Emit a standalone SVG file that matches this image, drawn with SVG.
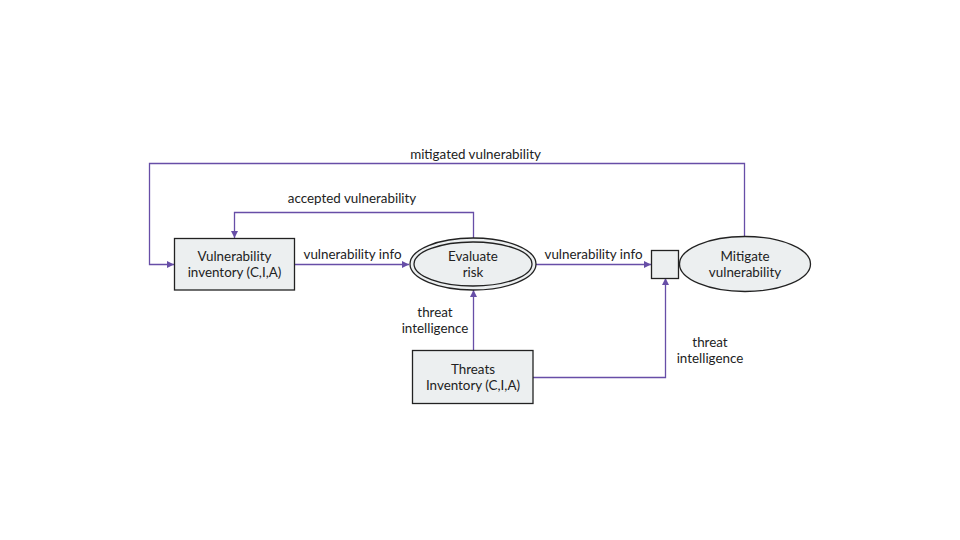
<svg xmlns="http://www.w3.org/2000/svg" width="960" height="540" viewBox="0 0 960 540">
<style>
text{font-family:Lato,"Noto Sans","Liberation Sans",sans-serif;font-size:13.4px;fill:#222;}
.c{text-anchor:middle;}
.n{fill:#eceff0;stroke:#222;stroke-width:1.3;}
.e{fill:none;stroke:#674ea7;stroke-width:1.3;}
</style>
<defs>
<marker id="a" viewBox="0 0 10 10" refX="10" refY="5" markerWidth="7" markerHeight="7" markerUnits="userSpaceOnUse" orient="auto"><path d="M0,0 L10,5 L0,10 z" fill="#674ea7"/></marker>
</defs>
<rect width="960" height="540" fill="#fff"/>
<g id="connectors">
<path class="e" d="M294.5,264.5 H409" marker-end="url(#a)"/>
<path class="e" d="M744.5,237 V163.5 H149.5 V264.5 H174" marker-end="url(#a)"/>
<path class="e" d="M473.5,238 V212.5 H234.5 V238" marker-end="url(#a)"/>
<path class="e" d="M536,264.5 H651" marker-end="url(#a)"/>
<path class="e" d="M473.5,350 V290" marker-end="url(#a)"/>
<path class="e" d="M533,377.5 H665.5 V278" marker-end="url(#a)"/>
</g>
<g id="labels">
<text class="c" x="475.5" y="159">mitigated vulnerability</text>
<text class="c" x="352" y="203">accepted vulnerability</text>
<text class="c" x="352.5" y="259">vulnerability info</text>
<text class="c" x="593.5" y="259">vulnerability info</text>
<text class="c" x="435" y="317">threat</text>
<text class="c" x="435" y="333">intelligence</text>
<text class="c" x="710" y="347">threat</text>
<text class="c" x="710" y="363">intelligence</text>
</g>
<g id="vuln-inventory">
<rect class="n" x="174.5" y="238.5" width="120" height="51.5"/>
<text class="c" x="234.5" y="261">Vulnerability</text>
<text class="c" x="234.5" y="277">inventory (C,I,A)</text>
</g>
<g id="evaluate-risk">
<ellipse class="n" cx="473" cy="264" rx="63" ry="26"/>
<ellipse class="n" cx="473" cy="264" rx="59" ry="22"/>
<text class="c" x="473" y="261">Evaluate</text>
<text class="c" x="473" y="277">risk</text>
</g>
<g id="junction">
<rect class="n" x="651.5" y="250.5" width="27" height="28"/>
</g>
<g id="mitigate">
<ellipse class="n" cx="745" cy="264" rx="65.5" ry="27.5"/>
<text class="c" x="745" y="261">Mitigate</text>
<text class="c" x="745" y="277">vulnerability</text>
</g>
<g id="threats-inventory">
<rect class="n" x="412.5" y="350.5" width="120.5" height="53"/>
<text class="c" x="473" y="374">Threats</text>
<text class="c" x="473" y="390">Inventory (C,I,A)</text>
</g>
</svg>
